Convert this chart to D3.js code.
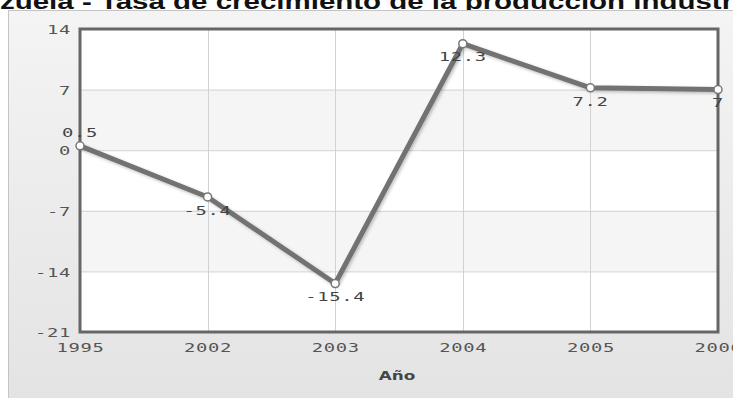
<!DOCTYPE html>
<html>
<head>
<meta charset="utf-8">
<script src="https://cdn.jsdelivr.net/npm/d3@7"></script>
<style>
  html, body { margin: 0; padding: 0; background: #ffffff; }
  svg { display: block; }
</style>
</head>
<body>
<svg id="chart" width="733" height="398"></svg>
<script>
// Industrial production growth rate, by year
const years = ["1995", "2002", "2003", "2004", "2005", "2006"];
const growth = [0.5, -5.4, -15.4, 12.3, 7.2, 7];
const yTicks = [-21, -14, -7, 0, 7, 14];
const chartTitle = "Venezuela - Tasa de crecimiento de la producción industrial";
const xAxisTitle = "Año";

const W = 733, H = 398;
const plot = { left: 80, right: 718, top: 29, bottom: 332 };
const SX = 1.45;            // horizontal stretch of the label font
const monoFont = "'DejaVu Sans Mono', monospace";

const svg = d3.select("#chart");
const defs = svg.append("defs");

const grad = defs.append("linearGradient")
  .attr("id", "panelGrad").attr("x1", 0).attr("y1", 0).attr("x2", 0).attr("y2", 1);
grad.append("stop").attr("offset", "0%").attr("stop-color", "#f4f4f4");
grad.append("stop").attr("offset", "100%").attr("stop-color", "#e2e2e2");

const shadow = defs.append("filter").attr("id", "lineShadow")
  .attr("x", "-10%").attr("y", "-10%").attr("width", "120%").attr("height", "120%");
shadow.append("feDropShadow")
  .attr("dx", 1.5).attr("dy", 1.5).attr("stdDeviation", 1.4)
  .attr("flood-color", "#000").attr("flood-opacity", 0.25);

// Title (runs past the edges of the frame)
const TSX = 1.31;
const title = svg.append("text")
  .attr("y", 9)
  .attr("font-family", "'Liberation Sans', Arial, sans-serif")
  .attr("font-weight", "bold")
  .attr("font-size", 22.5)
  .attr("fill", "#111")
  .text(chartTitle);
const lead = title.node().getSubStringLength(0, 4);
title.attr("transform", `translate(${-lead * TSX},0) scale(${TSX},1)`);

// Chart panel
svg.append("rect")
  .attr("x", 8.5).attr("y", 10.5).attr("width", 800).attr("height", 420)
  .attr("fill", "url(#panelGrad)")
  .attr("stroke", "#c4c4c4").attr("stroke-width", 1);

// Scales
const x = d3.scalePoint().domain(years).range([plot.left, plot.right]);
const y = d3.scaleLinear().domain([-21, 14]).range([plot.bottom, plot.top]);

// Plot background with alternating bands
svg.append("rect")
  .attr("x", plot.left).attr("y", plot.top)
  .attr("width", plot.right - plot.left).attr("height", plot.bottom - plot.top)
  .attr("fill", "#ffffff");
const bands = d3.pairs(yTicks).filter((d, i) => i % 2 === 1);
svg.append("g").selectAll("rect").data(bands).join("rect")
  .attr("x", plot.left).attr("width", plot.right - plot.left)
  .attr("y", d => y(d[1])).attr("height", d => y(d[0]) - y(d[1]))
  .attr("fill", "#f5f5f5");

// Grid lines
svg.append("g").selectAll("line").data(yTicks).join("line")
  .attr("x1", plot.left).attr("x2", plot.right)
  .attr("y1", d => y(d) + 0.5).attr("y2", d => y(d) + 0.5)
  .attr("stroke", "#d2d2d2").attr("stroke-width", 1);
svg.append("g").selectAll("line").data(years).join("line")
  .attr("x1", d => Math.round(x(d)) + 0.5).attr("x2", d => Math.round(x(d)) + 0.5)
  .attr("y1", plot.top).attr("y2", plot.bottom)
  .attr("stroke", "#d2d2d2").attr("stroke-width", 1);

// Plot frame
svg.append("rect")
  .attr("x", plot.left).attr("y", plot.top)
  .attr("width", plot.right - plot.left).attr("height", plot.bottom - plot.top)
  .attr("fill", "none").attr("stroke", "#666").attr("stroke-width", 3);

// Axes
const yAxis = svg.append("g")
  .attr("transform", `translate(${plot.left},0)`)
  .call(d3.axisLeft(y).tickValues(yTicks).tickSize(0).tickFormat(d => String(d)));
const xAxis = svg.append("g")
  .attr("transform", `translate(0,${plot.bottom})`)
  .call(d3.axisBottom(x).tickSize(0));
[yAxis, xAxis].forEach(g => {
  g.select(".domain").remove();
  g.selectAll("text")
    .attr("font-family", monoFont)
    .attr("font-size", 13)
    .attr("letter-spacing", "0.45px")
    .attr("fill", "#555");
});
yAxis.selectAll("text")
  .attr("x", -9 / SX).attr("dy", "0.36em")
  .attr("transform", `scale(${SX},1)`);
xAxis.selectAll("text")
  .attr("y", 11).attr("dy", "0.71em")
  .attr("transform", `scale(${SX},1)`);

// Axis title
svg.append("text")
  .attr("transform", `translate(${(plot.left + plot.right) / 2 - 2},380) scale(1.35,1)`)
  .attr("text-anchor", "middle")
  .attr("font-family", "'DejaVu Sans', Verdana, sans-serif")
  .attr("font-weight", "bold")
  .attr("font-size", 12.5)
  .attr("fill", "#444")
  .text(xAxisTitle);

// Series line
const pts = years.map((yr, i) => ({ year: yr, value: growth[i] }));
svg.append("path")
  .datum(pts)
  .attr("d", d3.line().x(d => x(d.year)).y(d => y(d.value)))
  .attr("fill", "none")
  .attr("stroke", "#727272")
  .attr("stroke-width", 5)
  .attr("stroke-linejoin", "round")
  .attr("filter", "url(#lineShadow)");

// Point markers
svg.append("g").selectAll("circle").data(pts).join("circle")
  .attr("cx", d => x(d.year)).attr("cy", d => y(d.value))
  .attr("r", 4)
  .attr("fill", "#ffffff")
  .attr("stroke", "#777").attr("stroke-width", 1.5);

// Value labels
svg.append("g").selectAll("text").data(pts).join("text")
  .attr("transform", (d, i) =>
    `translate(${x(d.year)},${y(d.value) + (i === 0 ? -14 : 13)}) scale(${SX},1)`)
  .attr("text-anchor", "middle")
  .attr("dy", "0.36em")
  .attr("font-family", monoFont)
  .attr("font-size", 13)
  .attr("letter-spacing", "0.45px")
  .attr("fill", "#444")
  .text(d => String(d.value));
</script>
</body>
</html>
